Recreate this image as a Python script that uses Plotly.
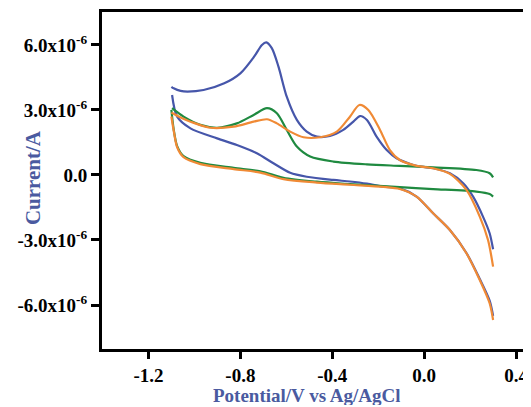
import plotly.graph_objects as go

# Potential (V) and current (in units of 1e-6 A); forward (anodic) and reverse sweeps
blue_fwd_x = [-1.10, -1.09, -1.06, -1.03, -0.96, -0.87, -0.80, -0.74, -0.706, -0.687, -0.663, -0.634,
              -0.598, -0.554, -0.511, -0.467, -0.41, -0.352, -0.308, -0.279, -0.249, -0.207, -0.163,
              -0.12, -0.06, -0.033, 0.039, 0.112, 0.17, 0.213, 0.256, 0.285, 0.30]
blue_fwd_y = [4.07, 4.0, 3.88, 3.85, 3.92, 4.23, 4.69, 5.46, 6.0, 6.12, 5.85, 5.0,
              3.61, 2.54, 2.0, 1.77, 1.8, 2.08, 2.46, 2.72, 2.54, 1.77, 1.15,
              0.77, 0.5, 0.42, 0.31, 0.08, -0.38, -1.0, -1.92, -2.69, -3.43]
blue_rev_x = [0.30, 0.285, 0.242, 0.184, 0.112, 0.039, -0.033, -0.106, -0.178, -0.249, -0.323,
              -0.395, -0.511, -0.583, -0.656, -0.728, -0.815, -0.901, -1.017, -1.075, -1.097]
blue_rev_y = [-6.5, -5.8, -4.8, -3.6, -2.54, -1.77, -1.0, -0.62, -0.54, -0.4, -0.3,
              -0.23, -0.08, 0.1, 0.54, 1.0, 1.38, 1.69, 2.15, 2.69, 3.69]

orange_fwd_x = [-1.10, -1.06, -1.017, -0.931, -0.829, -0.742, -0.684, -0.641, -0.583, -0.525, -0.453,
                -0.38, -0.323, -0.282, -0.243, -0.192, -0.149, -0.106, -0.033, 0.039, 0.112, 0.184,
                0.242, 0.278, 0.30]
orange_fwd_y = [2.88, 2.65, 2.46, 2.18, 2.23, 2.46, 2.57, 2.38, 2.0, 1.74, 1.74,
                2.0, 2.69, 3.23, 3.0, 2.08, 1.15, 0.69, 0.42, 0.31, 0.05, -0.69,
                -1.92, -3.0, -4.23]
orange_rev_x = [0.30, 0.285, 0.242, 0.184, 0.112, 0.039, -0.033, -0.106, -0.178, -0.323, -0.467,
                -0.612, -0.713, -0.829, -0.974, -1.047, -1.075, -1.09, -1.10]
orange_rev_y = [-6.69, -5.92, -4.85, -3.61, -2.54, -1.77, -1.0, -0.65, -0.55, -0.45, -0.35,
                -0.19, 0.11, 0.27, 0.5, 0.82, 1.28, 2.05, 2.7]

green_fwd_x = [-1.097, -1.047, -0.974, -0.901, -0.815, -0.742, -0.684, -0.641, -0.598, -0.554, -0.496,
               -0.395, -0.249, -0.106, 0.039, 0.227, 0.285, 0.30]
green_fwd_y = [3.08, 2.69, 2.31, 2.18, 2.38, 2.77, 3.08, 2.85, 2.08, 1.31, 0.85,
               0.62, 0.49, 0.42, 0.35, 0.23, 0.08, -0.11]
green_rev_x = [0.30, 0.285, 0.227, 0.039, -0.106, -0.323, -0.467, -0.612, -0.713, -0.829, -0.974,
               -1.047, -1.075, -1.09, -1.10]
green_rev_y = [-1.0, -0.88, -0.77, -0.65, -0.56, -0.42, -0.31, -0.13, 0.17, 0.33, 0.56,
               0.87, 1.33, 2.1, 3.0]

y_tickvals = [-6, -3, 0, 3, 6]
y_ticktext = ["-6.0x10<sup>-6</sup>", "-3.0x10<sup>-6</sup>", "0.0",
              "3.0x10<sup>-6</sup>", "6.0x10<sup>-6</sup>"]
x_tickvals = [-1.2, -0.8, -0.4, 0.0, 0.4]
x_ticktext = ["-1.2", "-0.8", "-0.4", "0.0", "0.4"]

BLUE, ORANGE, GREEN = "#4656aa", "#f08a35", "#1f8a40"

fig = go.Figure()
for xs, ys, col in [(blue_fwd_x, blue_fwd_y, BLUE), (blue_rev_x, blue_rev_y, BLUE),
                    (green_fwd_x, green_fwd_y, GREEN), (green_rev_x, green_rev_y, GREEN),
                    (orange_fwd_x, orange_fwd_y, ORANGE), (orange_rev_x, orange_rev_y, ORANGE)]:
    fig.add_trace(go.Scatter(x=xs, y=ys, mode="lines",
                             line=dict(color=col, width=2.2, shape="spline", smoothing=0.8),
                             showlegend=False, hoverinfo="skip"))

tick_font = dict(family="Liberation Serif", size=19, color="black", weight="bold")
title_font = dict(family="Liberation Serif", size=19, color="#4a5aa0", weight="bold")
# page body adds an 8px offset; figure fills 8..531 x 8..407
fig.update_layout(
    width=523, height=399,
    margin=dict(l=94, r=0, t=4, b=58),
    paper_bgcolor="white", plot_bgcolor="white",
    xaxis=dict(range=[-1.402, 0.465], tickvals=x_tickvals, ticktext=x_ticktext,
               showline=True, linecolor="black", linewidth=3, mirror=True,
               ticks="outside", ticklen=7, tickwidth=3, tickcolor="black",
               showgrid=False, zeroline=False, tickfont=tick_font),
    yaxis=dict(range=[-8.03, 7.52], tickvals=y_tickvals, ticktext=y_ticktext,
               showline=True, linecolor="black", linewidth=3, mirror=False,
               ticks="outside", ticklen=8, tickwidth=3, tickcolor="black",
               showgrid=False, zeroline=False, tickfont=tick_font),
    annotations=[
        dict(text="Current/A", xref="paper", yref="paper", x=-0.161, y=0.51,
             xanchor="center", yanchor="middle", textangle=-90, showarrow=False,
             font=dict(family="Liberation Serif", size=21, color="#4a5aa0", weight="bold")),
        dict(text="Potential/V vs Ag/AgCl", xref="paper", yref="paper", x=0.478, y=-0.169,
             xanchor="center", yanchor="bottom", showarrow=False, height=19, borderpad=0,
             valign="middle", font=title_font),
    ],
)
fig.write_html("out.html")
